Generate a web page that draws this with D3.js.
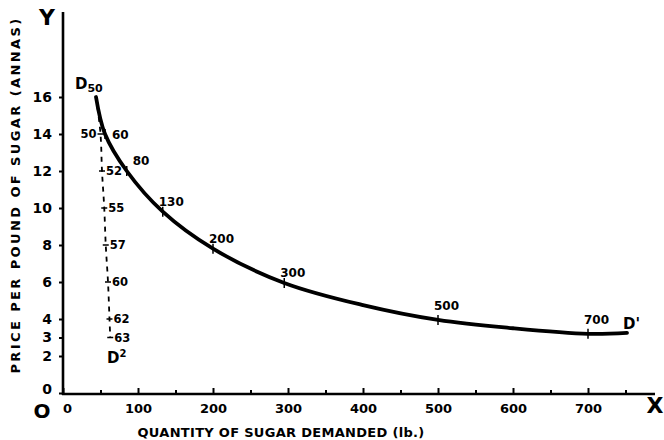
<!DOCTYPE html>
<html>
<head>
<meta charset="utf-8">
<script src="https://cdn.jsdelivr.net/npm/d3@7"></script>
<style>
  body { margin: 0; background: #fff; }
  text { font-family: "DejaVu Sans", sans-serif; font-weight: bold; fill: #000; }
</style>
</head>
<body>
<svg id="chart" width="664" height="440"></svg>
<script>
// demand curve D50 - D' (quantity lb, price annas)
const curveQty = [44, 56, 85, 133, 200, 295, 400, 500, 600, 700, 752];
const curvePrice = [16, 14, 12, 9.8, 7.8, 5.95, 4.75, 3.95, 3.5, 3.2, 3.25];

// quantities written along the curve, and which curve point each belongs to
const curveLabels = ["60", "80", "130", "200", "300", "500", "700"];
const curveLabelAt = [1, 2, 3, 4, 5, 7, 9];

// dashed curve D50 - D2
const dashQty = [50, 52, 55, 57, 60, 62, 63];
const dashPrice = [14, 12, 10, 8, 6, 4, 3];

const xTicks = [0, 100, 200, 300, 400, 500, 600, 700];
const xMinor = [50, 150, 250, 350, 450, 550, 650, 750];
const yTicks = [0, 2, 3, 4, 6, 8, 10, 12, 14, 16];

const svg = d3.select("#chart");

const x = d3.scaleLinear().domain([0, 800]).range([63, 663]);
const y = d3.scaleLinear().domain([0, 16]).range([393, 97]);

// axes lines
svg.append("line")
    .attr("x1", 63).attr("x2", 63).attr("y1", 12).attr("y2", 395)
    .attr("stroke", "#000").attr("stroke-width", 2.6);
svg.append("line")
    .attr("x1", 62).attr("x2", 655).attr("y1", 394).attr("y2", 394)
    .attr("stroke", "#000").attr("stroke-width", 2.6);

// x axis ticks + labels
const xAxis = svg.append("g")
    .attr("transform", "translate(0,394)")
    .call(d3.axisBottom(x).tickValues(xTicks).tickSize(-6).tickPadding(10));
xAxis.select(".domain").remove();
xAxis.selectAll("line").attr("stroke-width", 2);
xAxis.selectAll("text").attr("font-size", 13).attr("dx", d => d === 0 ? 4 : 0);

svg.append("g")
    .attr("transform", "translate(0,394)")
    .call(d3.axisBottom(x).tickValues(xMinor).tickSize(-4).tickFormat(""))
    .call(g => g.select(".domain").remove())
    .selectAll("line").attr("stroke-width", 2);

// y axis ticks + labels
const yAxis = svg.append("g")
    .attr("transform", "translate(63,0)")
    .call(d3.axisLeft(y).tickValues(yTicks).tickSize(4).tickPadding(7));
yAxis.select(".domain").remove();
yAxis.selectAll("line").attr("stroke-width", 2);
yAxis.selectAll("text").attr("font-size", 14).attr("dy", d => d === 0 ? "0.05em" : "0.32em");

// axis letters
svg.append("text").attr("x", 47).attr("y", 25).attr("text-anchor", "middle")
    .attr("font-size", 22).text("Y");
svg.append("text").attr("x", 655).attr("y", 413).attr("text-anchor", "middle")
    .attr("font-size", 22).text("X");
svg.append("text").attr("x", 42).attr("y", 418).attr("text-anchor", "middle")
    .attr("font-size", 20).text("O");

// axis titles
svg.append("text")
    .attr("transform", "translate(20,195) rotate(-90)")
    .attr("text-anchor", "middle").attr("font-size", 13)
    .style("letter-spacing", "2.4px")
    .text("PRICE PER POUND OF SUGAR (ANNAS)");
svg.append("text")
    .attr("x", 281).attr("y", 437).attr("text-anchor", "middle")
    .attr("font-size", 13).style("letter-spacing", "0.3px")
    .text("QUANTITY OF SUGAR DEMANDED (lb.)");

// dashed curve, starting from the top of D50
const dashPts = [[x(curveQty[0]), y(curvePrice[0])]]
    .concat(dashQty.map((q, i) => [x(q), y(dashPrice[i])]));
svg.append("path")
    .attr("d", d3.line().curve(d3.curveMonotoneY)(dashPts))
    .attr("fill", "none").attr("stroke", "#000").attr("stroke-width", 1.8)
    .attr("stroke-dasharray", "5,5");
svg.selectAll(".dtick").data(dashPts.slice(1)).enter().append("line")
    .attr("x1", d => d[0] - 3).attr("x2", d => d[0] + 3)
    .attr("y1", d => d[1]).attr("y2", d => d[1])
    .attr("stroke", "#000").attr("stroke-width", 1.5);
svg.selectAll(".dlab").data(dashQty.slice(1)).enter().append("text")
    .attr("x", d => x(d) + 4).attr("y", (d, i) => y(dashPrice[i + 1]) + 4)
    .attr("font-size", 11.5).text(d => d);
svg.append("text").attr("x", x(dashQty[0]) - 4).attr("y", y(dashPrice[0]) + 4)
    .attr("text-anchor", "end").attr("font-size", 11.5).text(dashQty[0]);

// main demand curve
const curvePts = curveQty.map((q, i) => [x(q), y(curvePrice[i])]);
svg.append("path")
    .attr("d", d3.line().curve(d3.curveCatmullRom.alpha(0.5))(curvePts))
    .attr("fill", "none").attr("stroke", "#000").attr("stroke-width", 3.8)
    .attr("stroke-linecap", "round");
svg.selectAll(".ctick").data(curveLabelAt).enter().append("line")
    .attr("x1", i => curvePts[i][0]).attr("x2", i => curvePts[i][0])
    .attr("y1", i => curvePts[i][1] - 5).attr("y2", i => curvePts[i][1] + 5)
    .attr("stroke", "#000").attr("stroke-width", 1.5);
svg.selectAll(".clab").data(curveLabelAt).enter().append("text")
    .attr("x", (d, k) => curvePts[d][0] + (k === 0 ? 7 : k === 1 ? 6 : -4))
    .attr("y", (d, k) => curvePts[d][1] + (k === 0 ? 5 : k < 5 ? -6 : -10))
    .attr("font-size", 12)
    .text((d, k) => curveLabels[k]);

// curve names
const dName = svg.append("text").attr("x", 75).attr("y", 89).attr("font-size", 15);
dName.append("tspan").text("D");
dName.append("tspan").attr("font-size", 11).attr("dy", 3).text("50");

const d2 = svg.append("text").attr("x", 107).attr("y", 363).attr("font-size", 15);
d2.append("tspan").text("D");
d2.append("tspan").attr("font-size", 10).attr("dy", -6).text("2");

svg.append("text").attr("x", x(curveQty[curveQty.length - 1]) - 4).attr("y", y(3.25) - 4)
    .attr("font-size", 15).text("D'");
</script>
</body>
</html>
